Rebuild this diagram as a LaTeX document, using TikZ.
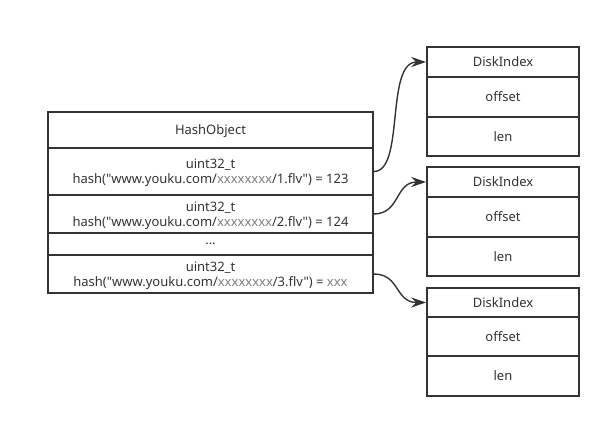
\documentclass[tikz,border=0pt]{standalone}
\usepackage{fontspec}
\setmainfont[Ligatures=TeXOff]{Noto Sans}
\usetikzlibrary{arrows.meta}
\definecolor{ln}{HTML}{333333}
\tikzset{
  cell/.style={draw=ln, line width=1.6pt, inner sep=0pt, align=center, text=ln,
    text depth=0pt, font=\fontsize{13}{15}\selectfont},
  lcell/.style={cell, minimum width=325pt},
  rcell/.style={cell, minimum width=152pt},
  link/.style={draw=ln, line width=1.4pt, -{Stealth[length=15pt,width=10pt]}}
}
\newcommand{\xx}{\textcolor{gray}{xxxxxxxx}}
\begin{document}
\begin{tikzpicture}[x=1pt,y=-1pt]
\useasboundingbox (0,0) rectangle (611,428);
% left table
\node[lcell, minimum height=36pt] (h0) at (210.5,130) {HashObject};
\node[lcell, minimum height=47pt] (r1) at (210.5,171.5) {uint32\_t\\hash("www.youku.com/\xx/1.flv") = 123};
\node[lcell, minimum height=38pt] (r2) at (210.5,214) {uint32\_t\\hash("www.youku.com/\xx/2.flv") = 124};
\node[lcell, minimum height=22pt] (dd) at (210.5,244) {...};
\node[lcell, minimum height=38pt] (r3) at (210.5,274) {uint32\_t\\hash("www.youku.com/\xx/3.flv") = \textcolor{gray}{xxx}};
% right boxes
\node[rcell, minimum height=30pt] (a1) at (503,62) {DiskIndex};
\node[rcell, minimum height=40pt] (a2) at (503,97) {offset};
\node[rcell, minimum height=39pt] (a3) at (503,136.5) {len};
\node[rcell, minimum height=30pt] (b1) at (503,182) {DiskIndex};
\node[rcell, minimum height=40pt] (b2) at (503,217) {offset};
\node[rcell, minimum height=39pt] (b3) at (503,256.5) {len};
\node[rcell, minimum height=29pt] (c1) at (503,302.5) {DiskIndex};
\node[rcell, minimum height=39pt] (c2) at (503,336.5) {offset};
\node[rcell, minimum height=40pt] (c3) at (503,376) {len};
% connectors
\draw[link] (r1.east) .. controls (405,171.5) and (385,62) .. (a1.west);
\draw[link] (r2.east) .. controls (400,214) and (395,182) .. (b1.west);
\draw[link] (r3.east) .. controls (400,274) and (395,302.5) .. (c1.west);
\end{tikzpicture}
\end{document}
